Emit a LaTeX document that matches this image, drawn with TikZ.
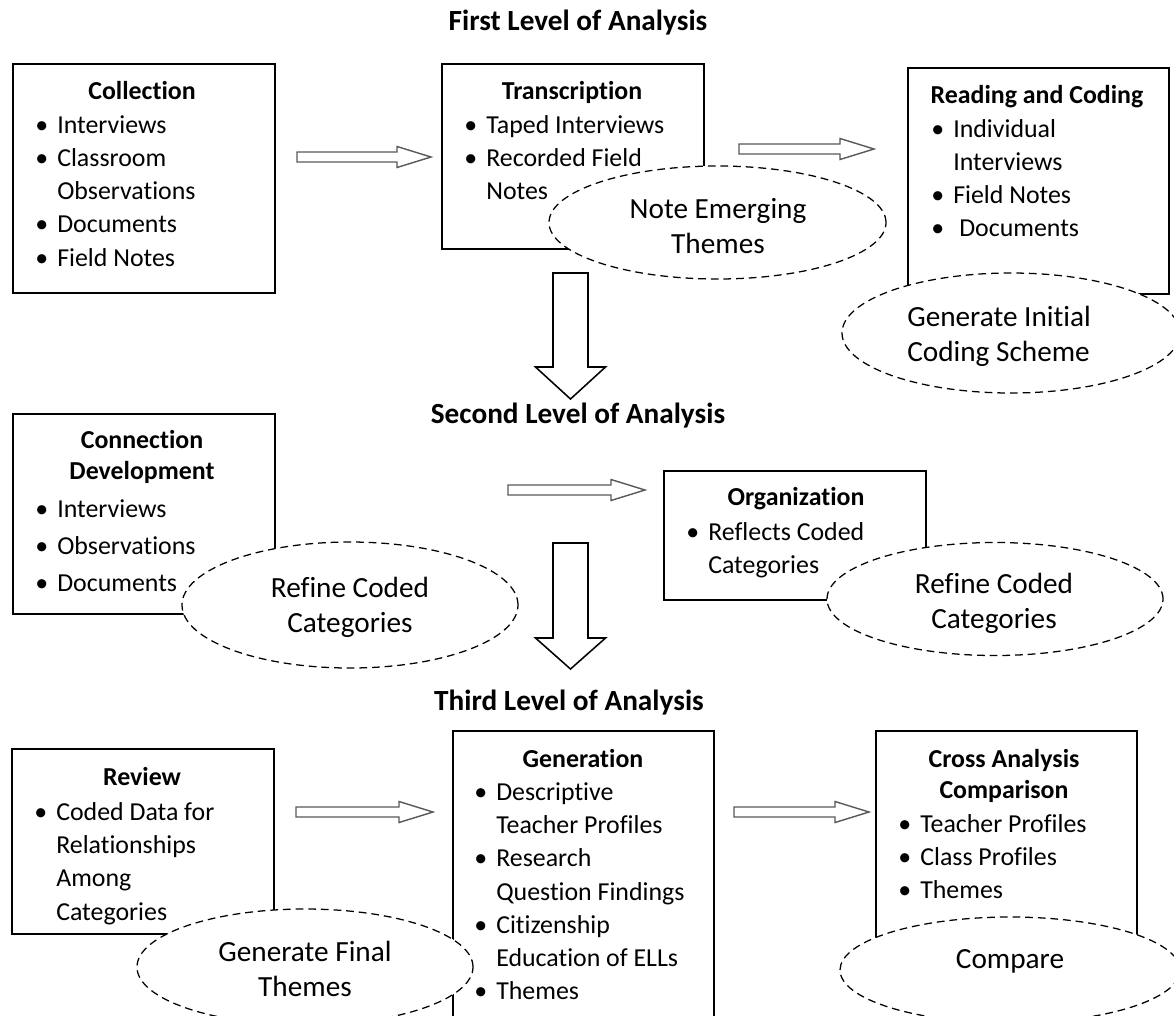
\documentclass[tikz,border=0pt]{standalone}
\usepackage{fontspec}
\setmainfont{Carlito}[RawFeature=-liga]
\usepackage{tikz}
\usetikzlibrary{shapes.geometric, positioning}
\newlength{\px}
\setlength{\px}{0.025cm}
\tikzset{
    box/.style={draw, line width=1.1pt, fill=white, inner sep=0pt, anchor=north west},
    oval/.style={ellipse, draw, line width=0.9pt, dash pattern=on 5.5pt off 3.5pt, fill=white, inner sep=0pt},
    lvl/.style={font=\bfseries\fontsize{20.8}{25}\selectfont, anchor=base, inner sep=0pt},
    hdr/.style={font=\bfseries\fontsize{18.4}{22.6}\selectfont, anchor=base, inner sep=0pt},
    lst/.style={font=\fontsize{18.4}{23.7}\selectfont, anchor=base west, inner sep=0pt},
    etxt/.style={font=\fontsize{20.8}{24.9}\selectfont, anchor=base, inner sep=0pt},
    harrow/.style={draw=black!65, line width=1pt, fill=white},
    varrow/.style={draw, line width=1.1pt, fill=white}
}
\newcommand{\bl}{\makebox[22\px][l]{\textbullet}}
\newcommand{\drawB}[5]{
    \node[box, minimum width=#3\px, minimum height=#4\px] (#5) at (#1,#2) {};
}
\newcommand{\drawO}[5]{
    \node[oval, minimum width=#3\px, minimum height=#4\px] (#5) at (#1,#2) {};
}
\newcommand{\drawT}[4]{
    \node[lvl] (#4) at (#1,#2) {#3};
}
\newcommand{\drawH}[3]{
    \draw[harrow] (#1,#3-5) -- (#2-34,#3-5) -- (#2-34,#3-10.5) -- (#2,#3)
        -- (#2-34,#3+10.5) -- (#2-34,#3+5) -- (#1,#3+5) -- cycle;
}
\newcommand{\drawD}[4]{
    \draw[varrow] (#1-17.5,#2) -- (#1+17.5,#2) -- (#1+17.5,#3) -- (#1+35,#3)
        -- (#1,#4) -- (#1-35,#3) -- (#1-17.5,#3) -- cycle;
}

\begin{document}
\begin{tikzpicture}[x=0.025cm, y=-0.025cm]
    \useasboundingbox (0,0) rectangle (1174,1015);
    \clip (0,0) rectangle (1174,1015);

    %Levels
        \drawT{578}{30}{First Level of Analysis}{lvlA}
        \drawT{578}{423}{Second Level of Analysis}{lvlB}
        \drawT{569}{710}{Third Level of Analysis}{lvlC}

    % Boxes
        \drawB{12}{63}{262}{229}{coll}
        \drawB{441}{63}{262}{185}{trans}
        \drawB{907}{67}{261}{226}{read}
        \drawB{12}{413}{262}{200}{conn}
        \drawB{663}{470}{262}{129}{org}
        \drawB{11}{748}{262}{185}{rev}
        \drawB{452}{730}{261}{320}{gen}
        \drawB{875}{730}{261}{230}{cross}

    % Box texts
        \node[hdr] (collH) at (142,99) {Collection};
        \node[lst] (collL) at (35,133) {\begin{tabular}[t]{@{}l@{}l@{}}
            \bl & Interviews\\ \bl & Classroom\\ & Observations\\
            \bl & Documents\\ \bl & Field Notes\end{tabular}};
        \node[hdr] (transH) at (572,99) {Transcription};
        \node[lst] (transL) at (464,133) {\begin{tabular}[t]{@{}l@{}l@{}}
            \bl & Taped Interviews\\ \bl & Recorded Field\\ & Notes\end{tabular}};
        \node[hdr] (readH) at (1037,103) {Reading and Coding};
        \node[lst] (readL) at (931,137) {\begin{tabular}[t]{@{}l@{}l@{}}
            \bl & Individual\\ & Interviews\\ \bl & Field Notes\\
            \bl & \hspace{6\px}Documents\end{tabular}};
        \node[hdr] (connH) at (142,448) {\begin{tabular}[t]{@{}c@{}}Connection\\Development\end{tabular}};
        \node[lst] (connL) at (35,517) {\renewcommand{\arraystretch}{1.11}\begin{tabular}[t]{@{}l@{}l@{}}
            \bl & Interviews\\ \bl & Observations\\ \bl & Documents\end{tabular}};
        \node[hdr] (orgH) at (796,505) {Organization};
        \node[lst] (orgL) at (686,540) {\begin{tabular}[t]{@{}l@{}l@{}}
            \bl & Reflects Coded\\ & Categories\end{tabular}};
        \node[hdr] (revH) at (142,785) {Review};
        \node[lst] (revL) at (34,820) {\begin{tabular}[t]{@{}l@{}l@{}}
            \bl & Coded Data for\\ & Relationships\\ & Among\\ & Categories\end{tabular}};
        \node[hdr] (genH) at (583,767) {Generation};
        \node[lst] (genL) at (474,800) {\begin{tabular}[t]{@{}l@{}l@{}}
            \bl & Descriptive\\ & Teacher Profiles\\ \bl & Research\\
            & Question Findings\\ \bl & Citizenship\\ & Education of ELLs\\
            \bl & Themes\end{tabular}};
        \node[hdr] (crossH) at (1004,767) {\begin{tabular}[t]{@{}c@{}}Cross Analysis\\Comparison\end{tabular}};
        \node[lst] (crossL) at (898,832) {\begin{tabular}[t]{@{}l@{}l@{}}
            \bl & Teacher Profiles\\ \bl & Class Profiles\\ \bl & Themes\end{tabular}};

    % Ovals
        \drawO{717.5}{222.5}{337}{113}{emerge}
        \drawO{1011}{333}{338}{120}{scheme}
        \drawO{350}{605}{336}{126}{refineA}
        \drawO{995}{599}{336}{113}{refineB}
        \drawO{305}{967}{336}{116}{final}
        \drawO{1010}{970}{340}{106}{compare}
        \node[etxt] (emergeT) at (718,218) {\begin{tabular}[t]{@{}c@{}}Note Emerging\\Themes\end{tabular}};
        \node[etxt, anchor=base west] (schemeT) at (907,326) {\begin{tabular}[t]{@{}l@{}}Generate Initial\\Coding Scheme\end{tabular}};
        \node[etxt] (refineAT) at (350,597) {\begin{tabular}[t]{@{}c@{}}Refine Coded\\Categories\end{tabular}};
        \node[etxt] (refineBT) at (994,593) {\begin{tabular}[t]{@{}c@{}}Refine Coded\\Categories\end{tabular}};
        \node[etxt] (finalT) at (305,961) {\begin{tabular}[t]{@{}c@{}}Generate Final\\Themes\end{tabular}};
        \node[etxt] (compareT) at (1010,968) {Compare};

    % Block arrows
        \drawH{297}{431}{157}
        \drawH{739}{874}{149}
        \drawH{508}{645}{490}
        \drawH{296}{433}{812}
        \drawH{734}{869}{812}
        \drawD{570.5}{273}{367}{399}
        \drawD{570.5}{543}{638}{669}
\end{tikzpicture}
\end{document}
